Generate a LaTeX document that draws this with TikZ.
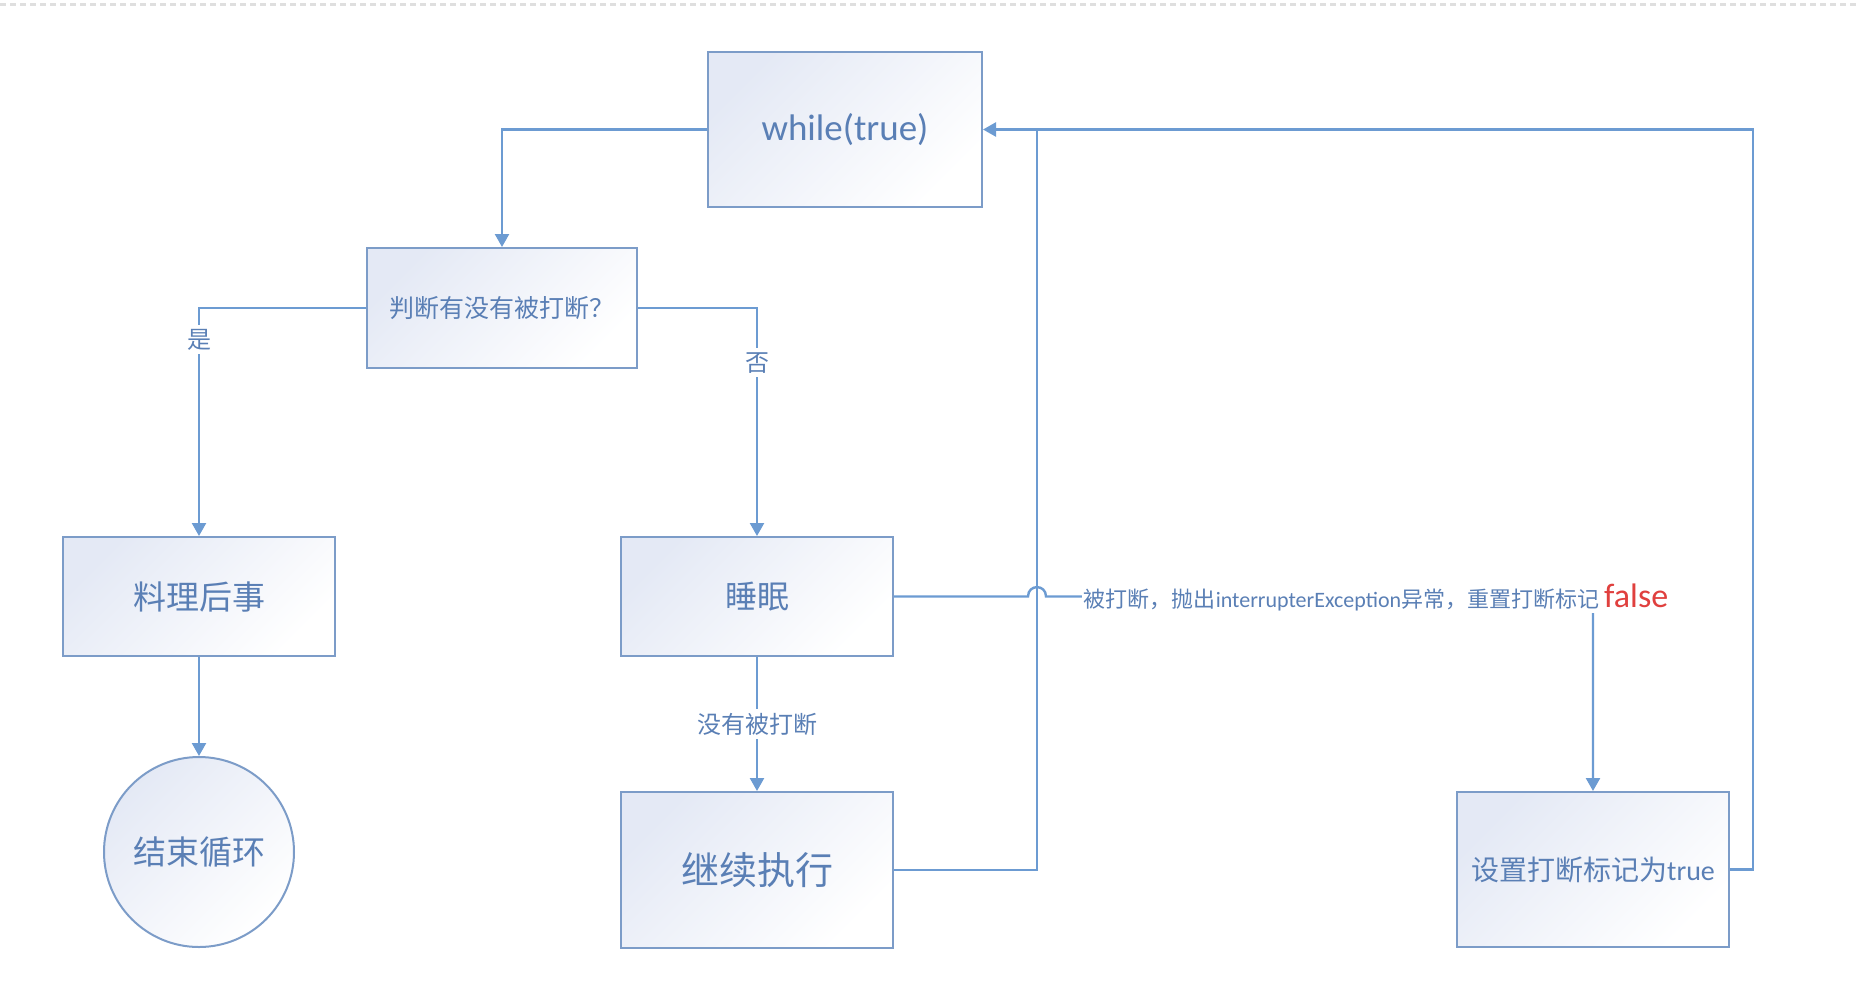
\documentclass[tikz,border=0pt]{standalone}
\usepackage{fontspec}
\setmainfont{Carlito}
\newfontfamily\cjk{Noto Sans CJK SC}
\usetikzlibrary{arrows.meta}
\definecolor{tc}{HTML}{5A7FB5}
\definecolor{lc}{HTML}{6C9BD2}
\definecolor{bc}{HTML}{7C9CC8}
\definecolor{sh}{HTML}{E4E9F5}
\definecolor{fr}{HTML}{E0403E}
\newcommand{\fsz}[1]{\fontsize{#1}{#1}\selectfont}
\begin{document}
\begin{tikzpicture}[x=0.5pt,y=-0.5pt,
  box/.style={draw=bc, line width=1pt, left color=sh, right color=white, shading angle=45,
    text=tc, inner sep=0pt, align=center},
  wire/.style={draw=lc, line width=1.2pt},
  con/.style={wire, -{Triangle[width=7pt,length=6.5pt]}},
  lab/.style={fill=white, text=tc, inner sep=2pt}]
\useasboundingbox (0,0) rectangle (1860,998);
\draw[gray!25, line width=1.5pt, dash pattern=on 3pt off 2pt] (0,4) -- (1860,4);

\node[box, minimum width=137pt, minimum height=77.5pt, font=\fsz{18.5}] (W) at (845,129.5) {while(true)};
\node[box, minimum width=135pt, minimum height=60pt, font=\cjk\fsz{12.5}] (D) at (502,308) {判断有没有被打断？};
\node[box, minimum width=136pt, minimum height=59.5pt, font=\cjk\fsz{16.5}] (L) at (199,596.5) {料理后事};
\node[box, minimum width=136pt, minimum height=59.5pt, font=\cjk\fsz{16}] (S) at (757,596.5) {睡眠};
\node[box, minimum width=136pt, minimum height=78pt, font=\cjk\fsz{19}] (C) at (757,870) {继续执行};
\node[box, minimum width=136pt, minimum height=77.5pt, font=\fsz{14}] (T) at (1593,869.5) {{\cjk 设置打断标记为}true};
\node[box, circle, minimum size=95pt, font=\cjk\fsz{16.5}] (E) at (199,852) {结束循环};

\coordinate (j1) at (1037,129.5);
\coordinate (r1) at (1753,129.5);
\coordinate (h1) at (1028,596.5);
\coordinate (h2) at (1046,596.5);
\coordinate (k1) at (1593,596.5);

\draw[con] (W.west) -| (D.north);
\draw[con] (D.west) -| node[lab, pos=0.57, font=\cjk\fsz{12}] (yes) {是} (L.north);
\draw[con] (D.east) -| node[lab, pos=0.62, font=\cjk\fsz{12}] (no) {否} (S.north);
\draw[con] (L.south) -- (E.north);
\draw[con] (S.south) -- node[lab, font=\cjk\fsz{12}] (nb) {没有被打断} (C.north);
\draw[wire] (C.east) -| (j1);
\draw[con] (T.east) -| (r1) -- (W.east);
\draw[con] (S.east) -- (h1) .. controls (1028,584) and (1046,584) .. (h2) -- (k1) -- (T.north);
\node[lab, inner sep=1pt, font=\fsz{11}] (msg) at (1376,597)
  {{\cjk 被打断，抛出}interrupterException{\cjk 异常，重置打断标记} {\color{fr}\fsz{17}false}};
\end{tikzpicture}
\end{document}
